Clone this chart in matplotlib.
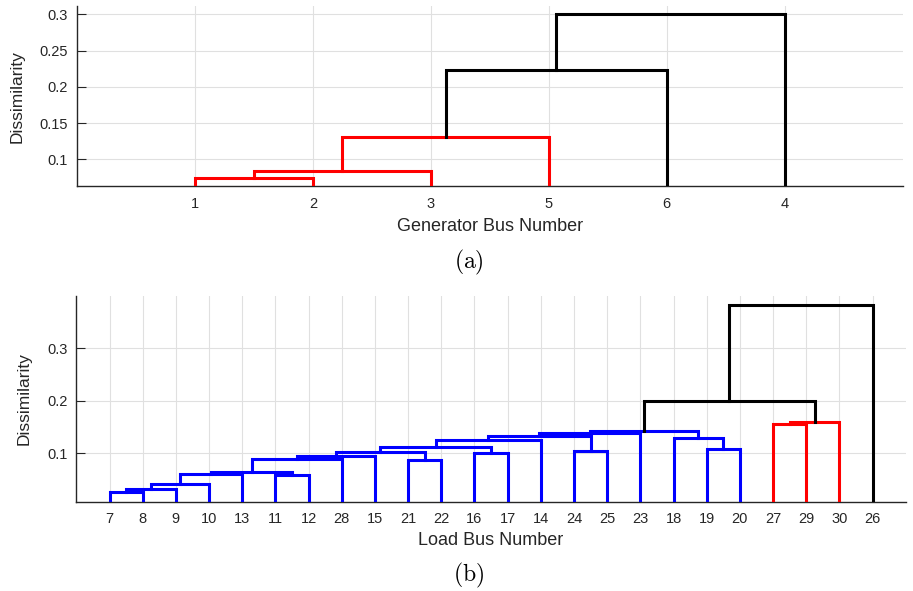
import matplotlib
matplotlib.use("Agg")
import matplotlib.pyplot as plt
import numpy as np

plt.rcParams['font.family'] = ['Liberation Sans', 'DejaVu Sans']
plt.rcParams['mathtext.fontset'] = 'cm'

# ---- data: (a) generator buses ----
# leaves in x-axis order, then one row per merge (MATLAB linkage style:
# index < n is a leaf, index >= n is the cluster made by row index-n)
gen_buses = ['1', '2', '3', '5', '6', '4']
gen_left = [0, 6, 7, 8, 9]
gen_right = [1, 2, 3, 4, 5]
gen_height = [0.0738, 0.0834, 0.1308, 0.2229, 0.300]
gen_color = ['red', 'red', 'red', 'black', 'black']

# ---- data: (b) load buses ----
load_buses = ['7', '8', '9', '10', '13', '11', '12', '28', '15', '21', '22', '16',
              '17', '14', '24', '25', '23', '18', '19', '20', '27', '29', '30', '26']
load_left = [0, 24, 25, 26, 5, 27, 29, 30, 9, 31, 11, 33, 35, 14, 36, 38, 18, 17, 39,
             20, 43, 42, 45]
load_right = [1, 2, 3, 4, 6, 28, 7, 8, 10, 32, 12, 34, 13, 15, 37, 16, 19, 40, 41,
              21, 22, 44, 23]
load_height = [0.026, 0.031, 0.041, 0.060, 0.0588, 0.065, 0.0895, 0.0954, 0.0866,
               0.102, 0.100, 0.111, 0.126, 0.105, 0.132, 0.139, 0.108, 0.130, 0.142,
               0.1555, 0.160, 0.200, 0.3825]
load_color = ['blue'] * 19 + ['red', 'red', 'black', 'black']


def draw_dendrogram(ax, labels, left, right, heights, colors):
    n = len(labels)
    xpos = list(np.arange(1, n + 1, dtype=float))
    hpos = [0.0] * n
    for a, b, h, c in zip(left, right, heights, colors):
        xa, xb = xpos[a], xpos[b]
        ax.plot([xa, xa, xb, xb], [hpos[a], h, h, hpos[b]], color=c,
                linewidth=2.2, solid_joinstyle='miter', zorder=3)
        xpos.append((xa + xb) / 2)
        hpos.append(h)
    ax.set_xticks(np.arange(1, n + 1))
    ax.set_xticklabels(labels)
    ax.set_xlim(0, n + 1)


def style(ax):
    for s in ['top', 'right']:
        ax.spines[s].set_visible(False)
    for s in ['left', 'bottom']:
        ax.spines[s].set_color('#262626')
        ax.spines[s].set_linewidth(1.0)
    ax.grid(True, color='#e0e0e0', linewidth=0.8, zorder=0)
    ax.set_axisbelow(True)
    ax.tick_params(axis='y', direction='in', length=6.5, width=0.8, pad=6.5,
                   colors='#262626', labelsize=10.5)
    ax.tick_params(axis='x', length=0, pad=8, colors='#262626', labelsize=10.5)


fig = plt.figure(figsize=(9.13, 5.91), dpi=100)

ax1 = fig.add_axes([0.0843, 0.6848, 0.9044, 0.3051])
draw_dendrogram(ax1, gen_buses, gen_left, gen_right, gen_height, gen_color)
ax1.set_ylim(0.0628, 0.3114)
ax1.set_yticks([0.1, 0.15, 0.2, 0.25, 0.3])
ax1.set_yticklabels(['0.1', '0.15', '0.2', '0.25', '0.3'])
style(ax1)
ax1.set_xlabel('Generator Bus Number', fontsize=13, color='#262626', labelpad=5)
ax1.set_ylabel('Dissimilarity', fontsize=12.5, color='#262626', labelpad=11)

ax2 = fig.add_axes([0.0836, 0.1506, 0.9085, 0.3486])
draw_dendrogram(ax2, load_buses, load_left, load_right, load_height, load_color)
ax2.set_ylim(0.0072, 0.3996)
ax2.set_yticks([0.1, 0.2, 0.3])
ax2.set_yticklabels(['0.1', '0.2', '0.3'])
style(ax2)
ax2.tick_params(axis='x', pad=7.5)
ax2.set_xlabel('Load Bus Number', fontsize=13, color='#262626', labelpad=4)
ax2.set_ylabel('Dissimilarity', fontsize=12.5, color='#262626', labelpad=11)

fig.text(468.5 / 913, 1 - 262 / 591, r'$\mathrm{(a)}$', fontsize=17,
         ha='center', va='center')
fig.text(468.5 / 913, 1 - 575 / 591, r'$\mathrm{(b)}$', fontsize=17,
         ha='center', va='center')

fig.savefig('out.png', dpi=100)
